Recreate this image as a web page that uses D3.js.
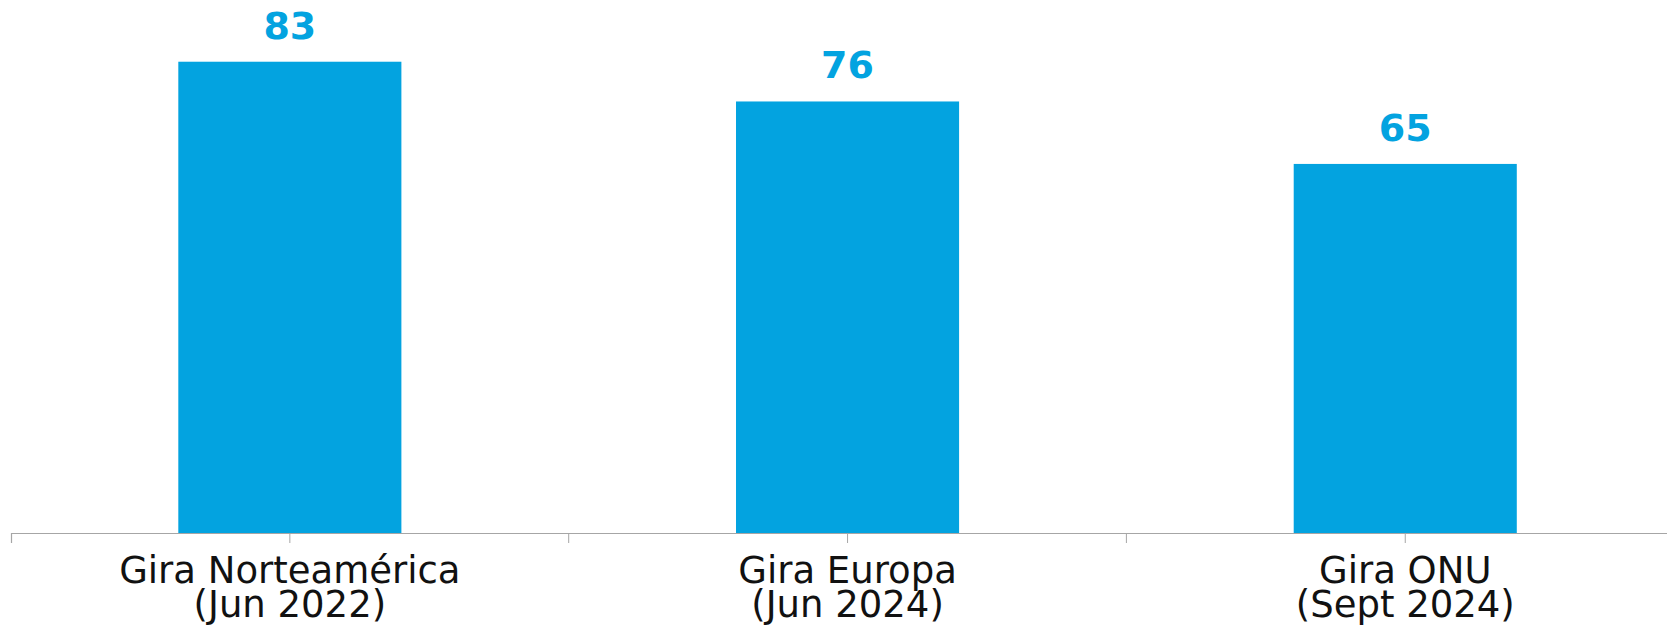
<!DOCTYPE html>
<html>
<head>
<meta charset="utf-8">
<script src="https://cdn.jsdelivr.net/npm/d3@7"></script>
<style>
  html, body { margin: 0; padding: 0; background: #fff; overflow: hidden; }
</style>
</head>
<body>
<svg id="chart"></svg>
<script>
// datos
const categories = ['Gira Norteamérica', 'Gira Europa', 'Gira ONU'];
const subLabels = ['(Jun 2022)', '(Jun 2024)', '(Sept 2024)'];
const values = [83, 76, 65];

const W = 1667, H = 627;
const baseY = 533;
const left = 11;
const slot = 557.7;
const blue = '#03A3E0';
const grey = '#A6A6A6';

const svg = d3.select('#chart')
  .attr('width', W)
  .attr('height', H);

// escalas
const x = d3.scaleBand()
  .domain(categories)
  .range([left, left + slot * categories.length])
  .paddingInner(0.6)
  .paddingOuter(0.3);

const y = d3.scaleLinear()
  .domain([0, 90])
  .range([baseY, baseY - 90 * 5.678]);

// barras
svg.selectAll('rect.bar')
  .data(values)
  .enter()
  .append('rect')
  .attr('class', 'bar')
  .attr('x', (d, i) => x(categories[i]))
  .attr('width', x.bandwidth())
  .attr('y', d => y(d))
  .attr('height', d => baseY - y(d))
  .attr('fill', blue);

// etiquetas de valor
svg.selectAll('text.val')
  .data(values)
  .enter()
  .append('text')
  .attr('class', 'val')
  .attr('x', (d, i) => x(categories[i]) + x.bandwidth() / 2)
  .attr('y', d => y(d) - 23)
  .attr('text-anchor', 'middle')
  .attr('font-family', '"DejaVu Sans", sans-serif')
  .attr('font-weight', 'bold')
  .attr('font-size', 38)
  .attr('fill', blue)
  .text(d => d);

// eje
const axis = svg.append('g')
  .attr('transform', `translate(0,${baseY})`)
  .call(d3.axisBottom(x).tickSize(10).tickSizeOuter(10).tickFormat(''));

axis.select('.domain').attr('stroke', grey).attr('stroke-width', 1.2);
axis.selectAll('.tick line').attr('stroke', grey).attr('stroke-width', 1);

// divisiones entre categorias
const half = (x.step() - x.bandwidth()) / 2;
axis.selectAll('line.sep')
  .data(categories.slice(1))
  .enter()
  .append('line')
  .attr('class', 'sep')
  .attr('x1', d => x(d) - half)
  .attr('x2', d => x(d) - half)
  .attr('y1', 0)
  .attr('y2', 10)
  .attr('stroke', grey)
  .attr('stroke-width', 1);

// etiquetas de categoria
const lab = svg.selectAll('text.cat')
  .data(categories)
  .enter()
  .append('text')
  .attr('class', 'cat')
  .attr('text-anchor', 'middle')
  .attr('font-family', '"DejaVu Sans", sans-serif')
  .attr('font-size', 37)
  .attr('fill', '#111');

lab.append('tspan')
  .attr('x', d => x(d) + x.bandwidth() / 2)
  .attr('y', 583)
  .text(d => d);

lab.append('tspan')
  .attr('x', d => x(d) + x.bandwidth() / 2)
  .attr('y', 617)
  .text((d, i) => subLabels[i]);
</script>
</body>
</html>
